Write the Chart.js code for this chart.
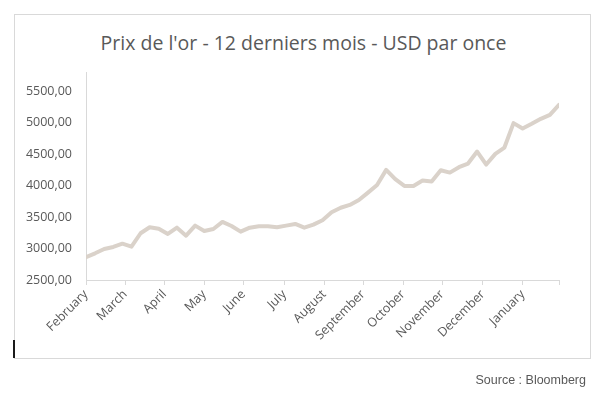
<!DOCTYPE html>
<html>
<head>
<meta charset="utf-8">
<script src="https://cdn.jsdelivr.net/npm/chart.js@4.4.1/dist/chart.umd.min.js"></script>
<style>
  html, body { margin: 0; padding: 0; background: #fff; }
  #wrap { position: relative; width: 609px; height: 399px; }
  #cadre { position: absolute; left: 14px; top: 14px; width: 575px; height: 343px; border: 1px solid #d9d9d9; }
  #curseur { position: absolute; left: 13px; top: 340px; width: 2px; height: 18px; background: #1a1a1a; }
  #titre { position: absolute; left: 16px; top: 30px; width: 575px; text-align: center; font: 19.5px "Open Sans", sans-serif; line-height: 26px; color: #595959; }
  #source { position: absolute; right: 23px; top: 373px; font: 12.5px "Liberation Sans", Arial, sans-serif; color: #595959; }
  canvas { position: absolute; left: 0; top: 0; }
</style>
</head>
<body>
<div id="wrap">
  <div id="cadre"></div>
  <div id="curseur"></div>
  <div id="titre">Prix de l'or - 12 derniers mois - USD par once</div>
  <canvas id="prixOr" width="609" height="399"></canvas>
  <div id="source">Source : Bloomberg</div>
</div>
<script>
// prix hebdomadaire de l'or (USD/once)
const prixOr = [2862, 2925, 2994, 3026, 3078, 3030, 3244, 3340, 3317, 3233,
  3333, 3206, 3365, 3281, 3312, 3424, 3360, 3269, 3333, 3355,
  3355, 3340, 3365, 3392, 3333, 3381, 3451, 3578, 3650, 3695,
  3774, 3891, 4013, 4252, 4104, 3997, 3997, 4082, 4066, 4247,
  4209, 4295, 4353, 4544, 4337, 4507, 4608, 4996, 4910, 4985,
  5065, 5128, 5288];

// axe X : debut de chaque mois (en semaines)
const mois = ['February', 'March', 'April', 'May', 'June', 'July', 'August',
  'September', 'October', 'November', 'December', 'January', ''];
const debutMois = [0, 4.31, 8.63, 12.99, 17.3, 21.8, 26.19, 30.47, 34.86, 39.14, 43.64, 48.03, 52];

// axe Y
const ticksY = [2500, 3000, 3500, 4000, 4500, 5000, 5500];

const gris = '#595959';
const trait = '#d9d9d9';

function graficoOr(ctxRef) {
  let points = [];
  for (let i = 0; i < prixOr.length; i++) {
    points.push({ x: i, y: prixOr[i] });
  }

  const chartOr = new Chart(ctxRef, {
    type: 'line',
    data: {
      datasets: [{
        data: points,
        borderColor: '#dad2ca',
        borderWidth: 4,
        pointRadius: 0,
        tension: 0,
        borderJoinStyle: 'round',
        borderCapStyle: 'round'
      }]
    },
    options: {
      responsive: false,
      animation: false,
      devicePixelRatio: 1,
      layout: { padding: { left: 0, right: 50, top: 72, bottom: 0 } },
      plugins: {
        legend: { display: false },
        tooltip: { enabled: false }
      },
      scales: {
        x: {
          type: 'linear',
          min: 0,
          max: 52,
          afterBuildTicks: function (scale) {
            scale.ticks = debutMois.map(v => ({ value: v }));
          },
          afterFit: function (scale) { scale.height = 119; },
          ticks: {
            autoSkip: false,
            minRotation: 45,
            maxRotation: 45,
            color: gris,
            padding: 2,
            font: { family: 'Open Sans', size: 12.5 },
            callback: function (value, index) { return mois[index]; }
          },
          grid: { drawOnChartArea: false, drawTicks: true, tickLength: 5, color: trait },
          border: { color: trait, width: 1 }
        },
        y: {
          min: 2500,
          max: 5810,
          afterBuildTicks: function (scale) {
            scale.ticks = ticksY.map(v => ({ value: v }));
          },
          afterFit: function (scale) { scale.width = 86; },
          ticks: {
            color: gris,
            padding: 14,
            font: { family: 'Open Sans', size: 12.5 },
            callback: function (value) { return value.toFixed(2).replace('.', ','); }
          },
          grid: { drawOnChartArea: false, drawTicks: false },
          border: { color: trait, width: 1 }
        }
      }
    }
  });
}

graficoOr(document.getElementById('prixOr').getContext('2d'));
</script>
</body>
</html>
